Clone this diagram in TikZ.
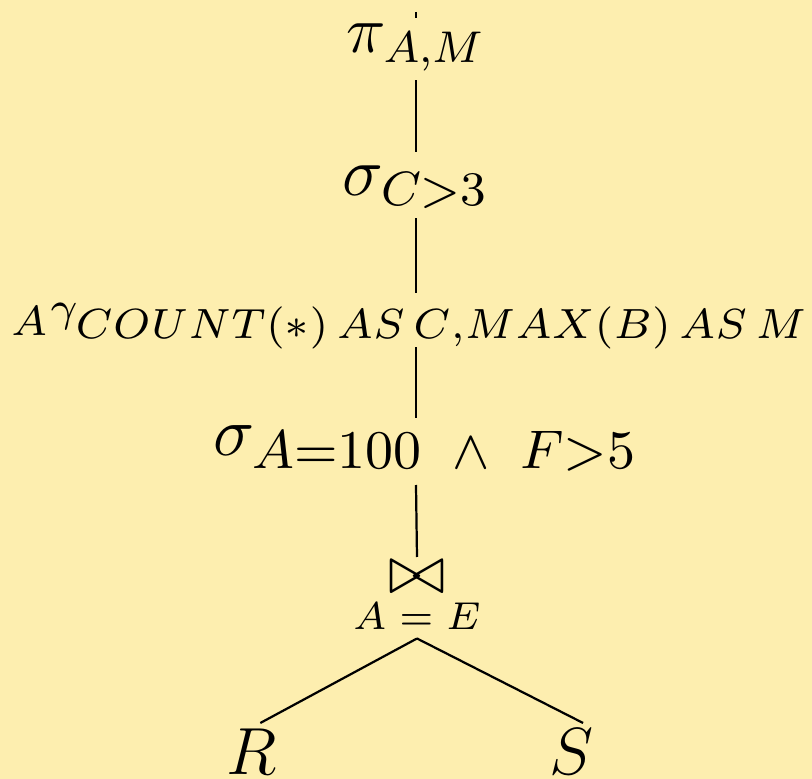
\RequirePackage{fix-cm}
\documentclass[tikz,border=0pt]{standalone}
\usepackage{amsmath}
\definecolor{bgyellow}{RGB}{253,238,175}
\newcommand{\fsz}[1]{\fontsize{#1}{#1}\selectfont}
\begin{document}
\begin{tikzpicture}[x=0.18pt,y=-0.18pt,
  op/.style={inner sep=0pt,outer sep=0pt,anchor=base},
  edge/.style={draw=black,line width=0.4pt}]
\fill[bgyellow] (0,0) rectangle (812,779);
\useasboundingbox (0,0) rectangle (812,779);
\coordinate (top) at (416,12);
\node[op,font=\fsz{12},text height=6.3pt,text depth=4.86pt] (pi) at (416,53) {$\pi_{A,M}$};
\node[op,font=\fsz{12.4},text height=7.74pt,text depth=4.14pt] (sc) at (416,195) {$\sigma_{C>3}$};
\node[op,font=\fsz{7.6},text height=5.04pt,text depth=4.68pt] (ga) at (410,321)
  {${}_{\hbox{$A$}}\gamma_{\hbox{$COUNT(*)\,AS\,C{,}MAX(B)\,AS\,M$}}$};
\node[op,font=\fsz{12.5},text height=6.66pt,text depth=5.4pt] (sa) at (426,455)
  {$\sigma_{\hbox{\fsz{9.8}$A{=}100\ \wedge\ F{>}5$}}$};
\node[inner sep=0.7pt,outer sep=0pt,anchor=north] (jn) at (417,557)
  {$\displaystyle\mathop{\hbox{\fsz{12.5}$\bowtie$}}\limits_{A\;=\;E}$};
\node[op,text height=9.18pt,font=\large] (r) at (252,774) {$R$};
\node[op,text height=9.18pt,font=\large] (s) at (572,774) {$S$};
\draw[edge] (top) -- (pi.north);
\draw[edge] (pi.south) -- (sc.north);
\draw[edge] (sc.south) -- (sc.south |- ga.north);
\draw[edge] (sc.south |- ga.south) -- (sc.south |- sa.north);
\draw[edge] (sc.south |- sa.south) -- (jn.north);
\draw[edge] (jn.south) -- ([xshift=1.5pt]r.north);
\draw[edge] (jn.south) -- ([xshift=2pt]s.north);
\end{tikzpicture}
\end{document}
